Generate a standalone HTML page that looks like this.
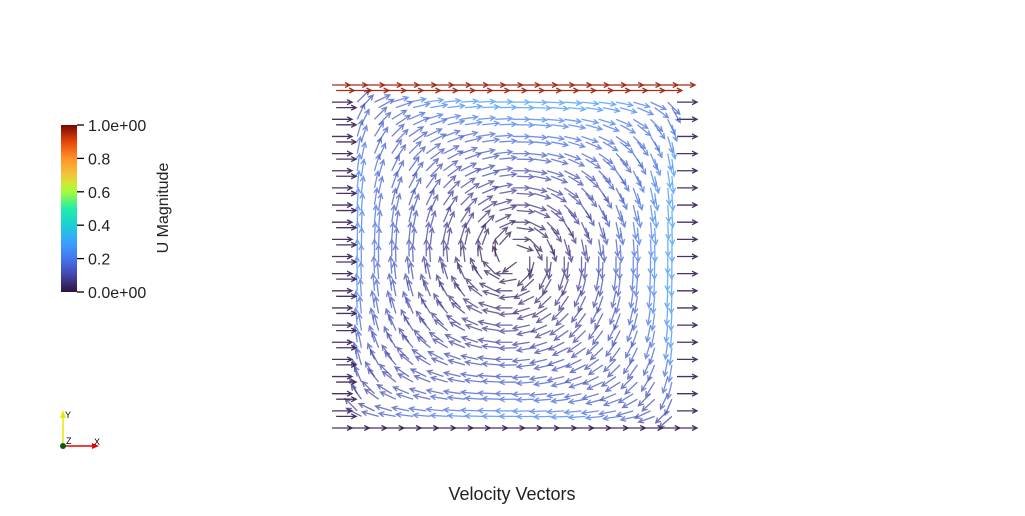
<!DOCTYPE html>
<html><head><meta charset="utf-8"><style>
body{margin:0;background:#fff;width:1025px;height:511px;overflow:hidden;font-family:"Liberation Sans",sans-serif}
</style></head><body>
<svg width="1025" height="511" xmlns="http://www.w3.org/2000/svg">
<defs>
<linearGradient id="cb" x1="0" y1="1" x2="0" y2="0">
<stop offset="0" stop-color="#30123b"/><stop offset="0.1" stop-color="#4145ab"/><stop offset="0.2" stop-color="#4675ed"/>
<stop offset="0.3" stop-color="#39a2fc"/><stop offset="0.4" stop-color="#1bcfd4"/><stop offset="0.5" stop-color="#24eca6"/>
<stop offset="0.6" stop-color="#a4fc3b"/><stop offset="0.65" stop-color="#d1e834"/><stop offset="0.7" stop-color="#f3c63a"/>
<stop offset="0.8" stop-color="#fe922a"/><stop offset="0.9" stop-color="#e4460a"/><stop offset="1" stop-color="#7a0403"/>
</linearGradient>
</defs>
<g id="field"></g>
<g>
<rect x="61" y="125" width="16" height="167" fill="url(#cb)"/>
<g id="cbticks" stroke="#000" stroke-width="1.3"></g>
<g id="cblabels" font-size="16" fill="#222"></g>
<text transform="translate(168,208) rotate(-90)" text-anchor="middle" font-size="16" fill="#222">U Magnitude</text>
</g>
<g>
<line x1="63" y1="446" x2="63" y2="416" stroke="#e8e800" stroke-width="1.5"/>
<polygon points="60,418 66,418 63,410" fill="#e8e800"/>
<line x1="63" y1="446" x2="94" y2="446" stroke="#e00" stroke-width="1.5"/>
<polygon points="92,443 92,449 99,446" fill="#e00"/>
<circle cx="63" cy="446" r="3" fill="#0a5a0a"/>
<text x="65" y="418" font-size="9">Y</text><text x="66" y="444" font-size="9">Z</text><text x="94" y="445" font-size="9">X</text>
</g>
<text x="512" y="500" text-anchor="middle" font-size="18" fill="#222">Velocity Vectors</text>
</svg>
<script>
const cbTicks=[0,0.2,0.4,0.6,0.8,1.0];
const cbLabels=["0.0e+00","0.2","0.4","0.6","0.8","1.0e+00"];
const nCols=20, nRows=20;
const lidSpeed=[1.0];
const interiorMax=[0.27];
const NS="http://www.w3.org/2000/svg";
const cbY=v=>292-v*167;
const tk=document.getElementById('cbticks'),tl=document.getElementById('cblabels');
cbTicks.forEach((v,i)=>{
 const l=document.createElementNS(NS,'line');
 
 
 l.setAttribute('x1',77);l.setAttribute('x2',84);l.setAttribute('y1',cbY(v));l.setAttribute('y2',cbY(v));tk.appendChild(l);
 const t=document.createElementNS(NS,'text');
 
 
 t.setAttribute('x',88);t.setAttribute('y',cbY(v)+6);t.textContent=cbLabels[i];tl.appendChild(t);
});
const stops=[[0,48,18,59],[0.1,65,69,171],[0.2,70,117,237],[0.3,57,162,252],[0.4,27,207,212],[0.5,36,236,166],[0.6,164,252,59],[0.7,243,198,58],[0.8,254,146,42],[0.9,228,70,10],[1,122,4,3]];
function col(v){v=Math.max(0,Math.min(1,v));for(let i=1;i<stops.length;i++){if(v<=stops[i][0]){const a=stops[i-1],b=stops[i],t=(v-a[0])/(b[0]-a[0]);return `rgb(${[1,2,3].map(k=>Math.round(a[k]+(b[k]-a[k])*t)).join(',')})`;}}return 'rgb(122,4,3)';}
const X=x=>340+x*345, Y=y=>428-y*343;
function psi(x,y){return Math.pow(16*x*(1-x)*y*(1-y),0.75);}
const h=1e-4;
function vel(x,y){return [-(psi(x,y+h)-psi(x,y-h))/(2*h),(psi(x+h,y)-psi(x-h,y))/(2*h)];}
let mmax=0;
for(let a=0.05;a<0.96;a+=0.01)for(let b=0.05;b<0.96;b+=0.01){const w=vel(a,b);mmax=Math.max(mmax,Math.hypot(w[0],w[1]));}
const g=document.getElementById('field');
function arrow(px,py,dx,dy,c,L,op){
 const n=Math.hypot(dx,dy)||1;dx/=n;dy/=n;
 const x2=px+dx*L,y2=py+dy*L;
 const p=document.createElementNS(NS,'path');
 
 
 const hx=x2-dx*5,hy=y2-dy*5;
 p.setAttribute('d',`M${px},${py}L${x2},${y2}M${hx-dy*2.5},${hy+dx*2.5}L${x2},${y2}L${hx+dy*2.5},${hy-dx*2.5}`);
 p.setAttribute('stroke',c);p.setAttribute('stroke-width','1.3');p.setAttribute('fill','none');p.setAttribute('opacity',op);
 g.appendChild(p);
}
for(let off=0;off<2;off++){
for(let j=0;j<=nRows;j++){for(let i=0;i<=nCols;i++){
 let x=i/nCols+off*0.012, y=j/nRows-off*0.016;
 if(x>1||y<0) continue;
 let px=X(x),py=Y(y);
 if(j===nRows){arrow(px-8,py,1,0,col(lidSpeed[0]*0.97),18,0.9);continue;}
 if(i===0||i===nCols||j===0){arrow(px-8,py,1,0,col(0.02),20,0.9);continue;}
 const w=vel(x,y);
 const m=Math.hypot(w[0],w[1]);
 const wt=(0.75+0.45*y)*(0.85+0.3*x);
 arrow(px,py,w[0],-w[1],col(interiorMax[0]*Math.min(1,wt*m/mmax)),17,0.75);
}}}
</script>
</body></html>
